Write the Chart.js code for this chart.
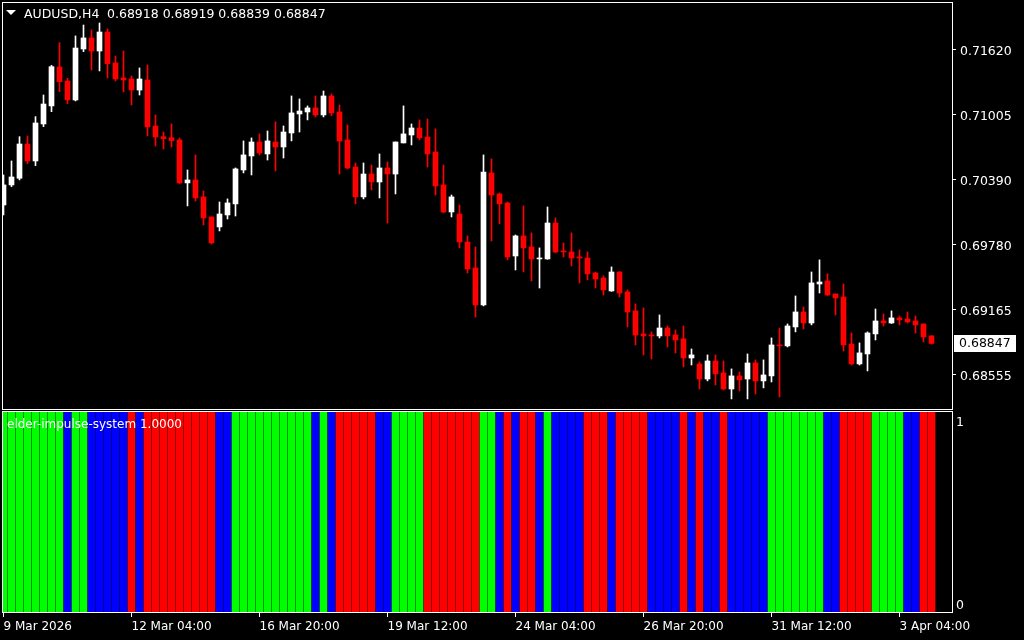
<!DOCTYPE html>
<html>
<head>
<meta charset="utf-8">
<script src="https://cdn.jsdelivr.net/npm/chart.js@4.4.1/dist/chart.umd.min.js"></script>
<style>
    html, body { margin: 0; padding: 0; background: #000; overflow: hidden; }
    canvas { display: block; }
</style>
</head>
<body>
<canvas id="priceChart" width="1024" height="410"></canvas>
<canvas id="impulseChart" width="1024" height="230"></canvas>
<script>
// AUDUSD H4 candles, oldest first
var opens = [0.70152,0.70341,0.70404,0.70727,0.70567,0.70916,0.71086,0.71453,0.71321,0.71142,
    0.71623,0.71727,0.71604,0.71783,0.71491,0.71350,0.71340,0.71236,0.71331,0.70897,
    0.70796,0.70787,0.70765,0.70360,0.70388,0.70228,0.70039,0.69945,0.70058,0.70162,
    0.70482,0.70614,0.70746,0.70633,0.70746,0.70699,0.70831,0.71010,0.71029,0.71067,
    0.71001,0.71180,0.71029,0.70765,0.70510,0.70228,0.70444,0.70369,0.70501,0.70444,
    0.70737,0.70812,0.70878,0.70793,0.70652,0.70341,0.70086,0.70067,0.69803,0.69558,
    0.69209,0.70454,0.70256,0.70171,0.69671,0.69860,0.69756,0.69643,0.69643,0.69982,
    0.69718,0.69709,0.69662,0.69652,0.69511,0.69464,0.69341,0.69520,0.69332,0.69153,
    0.68936,0.68926,0.68917,0.68992,0.68926,0.68889,0.68709,0.68653,0.68511,0.68681,
    0.68568,0.68417,0.68540,0.68511,0.68662,0.68493,0.68540,0.68832,0.68823,0.69002,
    0.69143,0.69039,0.69407,0.69436,0.69313,0.69285,0.68841,0.68653,0.68747,0.68936,
    0.69058,0.69039,0.69087,0.69077,0.69058,0.69030,0.68918];
var highs = [0.70435,0.70567,0.70796,0.70803,0.70985,0.71189,0.71469,0.71683,0.71346,0.71746,
    0.71849,0.71802,0.71868,0.71812,0.71557,0.71604,0.71368,0.71444,0.71472,0.71001,
    0.70840,0.70916,0.70784,0.70482,0.70624,0.70284,0.70039,0.70180,0.70209,0.70501,
    0.70756,0.70784,0.70822,0.70850,0.70935,0.70897,0.71180,0.71152,0.71086,0.71180,
    0.71227,0.71199,0.71095,0.70906,0.70548,0.70548,0.70529,0.70633,0.70558,0.70746,
    0.71086,0.70916,0.70954,0.70963,0.70869,0.70529,0.70246,0.70152,0.69860,0.69756,
    0.70624,0.70586,0.70265,0.70180,0.69869,0.70143,0.69888,0.69747,0.70133,0.70030,
    0.69794,0.69888,0.69728,0.69709,0.69520,0.69483,0.69568,0.69524,0.69351,0.69219,
    0.69181,0.68955,0.69115,0.69011,0.68973,0.69011,0.68794,0.68672,0.68738,0.68738,
    0.68681,0.68606,0.68577,0.68747,0.68691,0.68691,0.68898,0.68992,0.69030,0.69294,
    0.69190,0.69520,0.69634,0.69502,0.69313,0.69407,0.68945,0.68851,0.68955,0.69171,
    0.69124,0.69153,0.69105,0.69143,0.69105,0.69030,0.68919];
var lows = [0.70058,0.70325,0.70388,0.70542,0.70523,0.70891,0.71032,0.71221,0.71108,0.71133,
    0.71598,0.71425,0.71416,0.71350,0.71321,0.71218,0.71095,0.71189,0.70803,0.70708,
    0.70680,0.70699,0.70355,0.70143,0.70190,0.69964,0.69784,0.69907,0.70020,0.70048,
    0.70454,0.70435,0.70624,0.70576,0.70473,0.70595,0.70756,0.70840,0.70954,0.70982,
    0.70982,0.70994,0.70444,0.70492,0.70162,0.70209,0.70294,0.70218,0.69982,0.70256,
    0.70737,0.70718,0.70765,0.70510,0.70246,0.70077,0.70039,0.69747,0.69511,0.69096,
    0.69200,0.69813,0.69973,0.69634,0.69539,0.69520,0.69436,0.69369,0.69640,0.69700,
    0.69662,0.69577,0.69417,0.69445,0.69369,0.69303,0.69338,0.69285,0.69002,0.68832,
    0.68738,0.68700,0.68898,0.68813,0.68757,0.68625,0.68643,0.68417,0.68493,0.68455,
    0.68408,0.68323,0.68398,0.68323,0.68370,0.68427,0.68483,0.68342,0.68813,0.68955,
    0.68983,0.69021,0.69322,0.69300,0.69115,0.68775,0.68643,0.68643,0.68587,0.68879,
    0.69011,0.69035,0.69021,0.69039,0.68945,0.68860,0.68839];
var closes = [0.70341,0.70416,0.70727,0.70567,0.70925,0.71104,0.71456,0.71315,0.71142,0.71632,
    0.71727,0.71604,0.71783,0.71485,0.71340,0.71331,0.71236,0.71340,0.70888,0.70793,
    0.70778,0.70759,0.70360,0.70388,0.70218,0.70030,0.69794,0.70067,0.70171,0.70492,
    0.70624,0.70746,0.70642,0.70756,0.70699,0.70840,0.71020,0.71038,0.71067,0.71001,
    0.71180,0.71020,0.70756,0.70501,0.70228,0.70444,0.70369,0.70501,0.70444,0.70746,
    0.70822,0.70878,0.70784,0.70633,0.70331,0.70086,0.70228,0.69803,0.69549,0.69209,
    0.70463,0.70246,0.70162,0.69662,0.69860,0.69747,0.69643,0.69652,0.69982,0.69709,
    0.69709,0.69652,0.69652,0.69502,0.69454,0.69351,0.69520,0.69322,0.69143,0.68926,
    0.68917,0.68917,0.68992,0.68917,0.68879,0.68709,0.68738,0.68511,0.68681,0.68559,
    0.68417,0.68540,0.68502,0.68662,0.68493,0.68549,0.68832,0.68823,0.69011,0.69143,
    0.69039,0.69417,0.69426,0.69303,0.69275,0.68832,0.68653,0.68757,0.68945,0.69058,
    0.69039,0.69087,0.69068,0.69049,0.69021,0.68907,0.68847];

// elder impulse state per bar: G = up, R = down, B = neutral
var impulse = ('GGGGGGGGBGGBBBBBRBRRRRRRRRRBBGGGGGGGGGGBGBRRRRRBBGGGGRRRRRRRGGBRBRRBGBBBBRRRBRRRR' +
    'BBBBRBRBBRBBBBBGGGGGGGBBRRRRGGGGBBRR').split('');
var impulseColors = { G: '#00ff00', B: '#0000ff', R: '#ff0000' };

var priceTicks = [0.71620, 0.71005, 0.70390, 0.69780, 0.69165, 0.68555];
var timeTicks = [0, 16, 32, 48, 64, 80, 96, 112];
var timeLabels = ['9 Mar 2026', '12 Mar 04:00', '16 Mar 20:00', '19 Mar 12:00',
    '24 Mar 04:00', '26 Mar 20:00', '31 Mar 12:00', '3 Apr 04:00'];

var symbolName = 'AUDUSD,H4';
var indicatorName = 'elder-impulse-system 1.0000';

Chart.defaults.font.family = 'DejaVu Sans';
Chart.defaults.font.size = 12;
Chart.defaults.color = '#ffffff';

var xMin = -0.1875, xMax = 118.5625;
var last = closes.length - 1;

function candleColor(i) {
    return closes[i] >= opens[i] ? '#ffffff' : '#ff0000';
}

var bodies = [], wicks = [], impulseBars = [];
opens.forEach(function (o, i) {
    bodies.push({ x: i, y: [o, closes[i]] });
    wicks.push({ x: i, y: [lows[i], highs[i]] });
});
impulse.forEach(function (s, i) {
    impulseBars.push({ x: i, y: 1 });
});

function noPadding(scale) {
    scale.paddingTop = 0;
    scale.paddingBottom = 0;
    scale.paddingLeft = 0;
    scale.paddingRight = 0;
}

// frame + header texts + price box
var pricePlugin = {
    id: 'priceDecor',
    afterDraw: function (chart) {
        var ctx = chart.ctx, a = chart.chartArea;
        ctx.save();
        ctx.strokeStyle = '#ffffff';
        ctx.lineWidth = 1;
        ctx.strokeRect(a.left + 0.5, a.top + 0.5, a.right - a.left, a.bottom - a.top);

        ctx.fillStyle = '#ffffff';
        ctx.beginPath();
        ctx.moveTo(6, 10); ctx.lineTo(16, 10); ctx.lineTo(11, 15);
        ctx.closePath();
        ctx.fill();

        ctx.font = '12.5px "DejaVu Sans"';
        ctx.textBaseline = 'alphabetic';
        ctx.fillText(symbolName, 24, 18);
        ctx.fillText([opens[last], highs[last], lows[last], closes[last]]
            .map(function (v) { return v.toFixed(5); }).join(' '), 107, 18);

        var y = chart.scales.y.getPixelForValue(closes[last]);
        ctx.fillRect(954, Math.round(y) - 8, 62, 17);
        ctx.fillStyle = '#000000';
        ctx.textBaseline = 'middle';
        ctx.fillText(closes[last].toFixed(5), 959, Math.round(y) + 1);
        ctx.restore();
    }
};

var impulsePlugin = {
    id: 'impulseDecor',
    afterDraw: function (chart) {
        var ctx = chart.ctx, a = chart.chartArea;
        ctx.save();
        ctx.strokeStyle = '#ffffff';
        ctx.lineWidth = 1;
        ctx.strokeRect(a.left + 0.5, a.top + 0.5, a.right - a.left, a.bottom - a.top);
        ctx.fillStyle = '#ffffff';
        ctx.font = '12px "DejaVu Sans"';
        ctx.textBaseline = 'alphabetic';
        ctx.fillText(indicatorName, 7, 18);
        ctx.restore();
    }
};

var priceChart = new Chart(document.getElementById('priceChart').getContext('2d'), {
    type: 'bar',
    data: {
        datasets: [
            {
                data: bodies,
                backgroundColor: function (c) { return candleColor(c.dataIndex); },
                barThickness: 5,
                minBarLength: 1,
                grouped: false,
                borderWidth: 0
            },
            {
                data: wicks,
                backgroundColor: function (c) { return candleColor(c.dataIndex); },
                barThickness: 1,
                grouped: false,
                borderWidth: 0
            }
        ]
    },
    options: {
        responsive: false,
        animation: false,
        events: [],
        layout: { padding: { left: 2, top: 2, right: 0, bottom: 1 } },
        plugins: { legend: { display: false }, tooltip: { enabled: false } },
        scales: {
            x: { type: 'linear', display: false, min: xMin, max: xMax, offset: false },
            y: {
                position: 'right',
                min: 0.68228,
                max: 0.72066,
                border: { display: false },
                grid: { drawOnChartArea: false, drawTicks: true, tickLength: 4, color: '#ffffff' },
                ticks: {
                    autoSkip: false,
                    padding: 4,
                    labelOffset: 2,
                    color: '#ffffff',
                    font: { size: 12.5 },
                    callback: function (v) { return Number(v).toFixed(5); }
                },
                afterBuildTicks: function (scale) {
                    scale.ticks = priceTicks.map(function (v) { return { value: v }; });
                },
                afterFit: function (scale) { scale.width = 72; noPadding(scale); }
            }
        }
    },
    plugins: [pricePlugin]
});

var impulseChart = new Chart(document.getElementById('impulseChart').getContext('2d'), {
    type: 'bar',
    data: {
        datasets: [
            {
                data: impulseBars,
                backgroundColor: function (c) { return impulseColors[impulse[c.dataIndex]]; },
                barThickness: 7,
                grouped: false,
                borderWidth: 0
            }
        ]
    },
    options: {
        responsive: false,
        animation: false,
        events: [],
        layout: { padding: { left: 2, top: 1, right: 0, bottom: 0 } },
        plugins: { legend: { display: false }, tooltip: { enabled: false } },
        scales: {
            x: {
                type: 'linear',
                min: xMin,
                max: xMax,
                offset: false,
                border: { display: false },
                grid: { drawOnChartArea: false, drawTicks: true, tickLength: 5, color: '#ffffff', offset: false },
                ticks: {
                    autoSkip: false,
                    maxRotation: 0,
                    align: 'start',
                    padding: 3,
                    color: '#ffffff',
                    callback: function (v, idx) { return timeLabels[idx]; }
                },
                afterBuildTicks: function (scale) {
                    scale.ticks = timeTicks.map(function (v) { return { value: v }; });
                },
                afterFit: function (scale) { scale.height = 28; noPadding(scale); }
            },
            y: {
                position: 'right',
                min: 0,
                max: 1,
                border: { display: false },
                grid: { display: false, drawTicks: false },
                ticks: {
                    autoSkip: false,
                    padding: 4,
                    labelOffset: 12,
                    color: '#ffffff',
                    font: { size: 12.5 },
                    callback: function (v) { return v > 0.5 ? '1' : '0'; }
                },
                afterBuildTicks: function (scale) {
                    scale.ticks = [{ value: 1 }, { value: 0.092 }];
                },
                afterFit: function (scale) { scale.width = 72; noPadding(scale); }
            }
        }
    },
    plugins: [impulsePlugin]
});
</script>
</body>
</html>
